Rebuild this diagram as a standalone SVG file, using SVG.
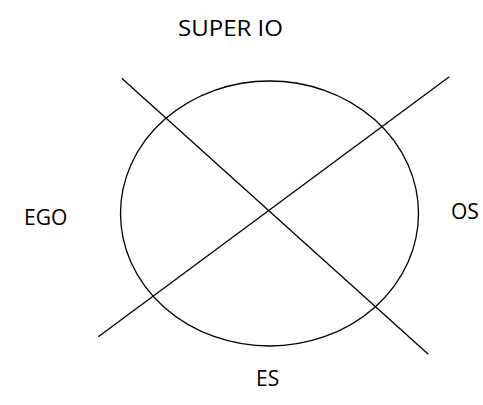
<svg xmlns="http://www.w3.org/2000/svg" width="483" height="405" viewBox="0 0 483 405">
<style>
.t{font-family:"Open Sans","Liberation Sans",sans-serif;font-size:21px;fill:#000}
.s{fill:none;stroke:#000;stroke-width:1.3}
</style>
<rect width="483" height="405" fill="#fff"/>
<g id="circle"><ellipse class="s" cx="269.5" cy="213.5" rx="149" ry="132.5"/></g>
<g id="connectors">
<line class="s" x1="121.7" y1="78.3" x2="428.3" y2="354.3"/>
<line class="s" x1="98.3" y1="336.7" x2="449.3" y2="76.7"/>
</g>
<g id="superio"><text class="t" x="178" y="36" textLength="105" lengthAdjust="spacingAndGlyphs">SUPER IO</text></g>
<g id="ego"><text class="t" x="24" y="225">EGO</text></g>
<g id="os"><text class="t" x="451" y="219">OS</text></g>
<g id="es"><text class="t" x="256" y="386">ES</text></g>
</svg>
